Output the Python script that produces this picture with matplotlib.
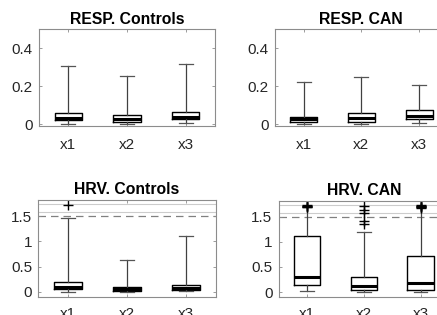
import matplotlib
matplotlib.use('Agg')
import matplotlib.pyplot as plt

plt.rcParams['font.family'] = ['Liberation Sans', 'DejaVu Sans']

labels = ['x1', 'x2', 'x3']

# RESP. Controls: lower whisker, q1, median, q3, upper whisker
resp_ctrl_lo = [0.004, 0.002, 0.008]
resp_ctrl_q1 = [0.022, 0.014, 0.026]
resp_ctrl_med = [0.035, 0.028, 0.040]
resp_ctrl_q3 = [0.060, 0.049, 0.063]
resp_ctrl_hi = [0.307, 0.253, 0.316]

# RESP. CAN
resp_can_lo = [0.004, 0.002, 0.008]
resp_can_q1 = [0.014, 0.012, 0.028]
resp_can_med = [0.028, 0.032, 0.042]
resp_can_q3 = [0.040, 0.058, 0.077]
resp_can_hi = [0.223, 0.247, 0.205]

# HRV. Controls
hrv_ctrl_lo = [0.0, 0.0, 0.01]
hrv_ctrl_q1 = [0.05, 0.02, 0.04]
hrv_ctrl_med = [0.10, 0.06, 0.07]
hrv_ctrl_q3 = [0.20, 0.10, 0.14]
hrv_ctrl_hi = [1.47, 0.64, 1.10]
hrv_ctrl_out = [[1.72], [], []]

# HRV. CAN
hrv_can_lo = [0.02, 0.0, 0.01]
hrv_can_q1 = [0.14, 0.04, 0.05]
hrv_can_med = [0.29, 0.12, 0.17]
hrv_can_q3 = [1.12, 0.29, 0.71]
hrv_can_hi = [1.90, 1.20, 1.90]
hrv_can_out = [[1.69, 1.70, 1.71, 1.72, 1.73],
               [1.36, 1.42, 1.57, 1.63, 1.72],
               [1.68, 1.69, 1.70, 1.71, 1.72, 1.73]]

# compressed-outlier band of the HRV panels
hrv_limit = 1.5
hrv_band = [1.575, 1.74]

gray = '#8c8c8c'
txt = '#262626'


def make_stats(lo, q1, med, q3, hi, out=None):
    stats = []
    for i in range(len(lo)):
        stats.append({'whislo': lo[i], 'q1': q1[i], 'med': med[i], 'q3': q3[i],
                      'whishi': hi[i], 'fliers': out[i] if out else [],
                      'label': labels[i]})
    return stats


def draw_panel(ax, stats, title, ylim, yticks, ytlabels, xpad, tpad):
    ax.bxp(stats, positions=[1, 2, 3], widths=0.47, showfliers=True,
           boxprops=dict(color='black', linewidth=1.0),
           medianprops=dict(color='black', linewidth=2.2),
           whiskerprops=dict(color='#404040', linewidth=0.9, linestyle='-'),
           capprops=dict(color='#555555', linewidth=0.9),
           capwidths=0.24,
           flierprops=dict(marker='+', markeredgecolor='black', markersize=7,
                           markeredgewidth=1.0, linestyle='none'))
    ax.set_xlim(0.5, 3.5)
    ax.set_ylim(*ylim)
    ax.set_yticks(yticks)
    ax.set_yticklabels(ytlabels)
    ax.set_xticks([1, 2, 3])
    ax.set_xticklabels(labels)
    for s in ax.spines.values():
        s.set_color(gray)
        s.set_linewidth(0.8)
    ax.tick_params(axis='both', direction='in', length=2.5, width=0.6,
                   color=gray, labelcolor=txt, labelsize=11,
                   top=True, right=True)
    ax.tick_params(axis='x', pad=xpad)
    ax.tick_params(axis='y', pad=4.5)
    ax.set_title(title, fontsize=11.3, fontweight='bold', pad=tpad)


W, H = 437, 315
fig = plt.figure(figsize=(W / 100, H / 100), dpi=100)


def add_ax(left, right, top, bottom):
    return fig.add_axes([left / W, (H - bottom) / H, (right - left) / W, (bottom - top) / H])


ax1 = add_ax(39, 215, 29, 126)
ax2 = add_ax(274.7, 448, 29, 126)
ax3 = add_ax(38.3, 215.7, 200, 297.3)
ax4 = add_ax(278.7, 449, 200.7, 297.3)

resp_ticks = [0, 0.2, 0.4]
resp_tl = ['0', '0.2', '0.4']
hrv_ticks = [0, 0.5, 1, 1.5]
hrv_tl = ['0', '0.5', '1', '1.5']

draw_panel(ax1, make_stats(resp_ctrl_lo, resp_ctrl_q1, resp_ctrl_med, resp_ctrl_q3, resp_ctrl_hi),
           'RESP. Controls', (-0.009, 0.5), resp_ticks, resp_tl, 8.5, 3.6)
draw_panel(ax2, make_stats(resp_can_lo, resp_can_q1, resp_can_med, resp_can_q3, resp_can_hi),
           'RESP. CAN', (-0.009, 0.5), resp_ticks, resp_tl, 8.5, 3.6)

for ax in (ax3, ax4):
    for yb in hrv_band:
        ax.axhline(yb, color='#cccccc', linewidth=0.8, zorder=0)
    ax.axhline(hrv_limit, color='#808080', linewidth=0.9, linestyle=(0, (6, 4)), zorder=0)

draw_panel(ax3, make_stats(hrv_ctrl_lo, hrv_ctrl_q1, hrv_ctrl_med, hrv_ctrl_q3, hrv_ctrl_hi, hrv_ctrl_out),
           'HRV. Controls', (-0.105, 1.818), hrv_ticks, hrv_tl, 6.8, 4.0)
draw_panel(ax4, make_stats(hrv_can_lo, hrv_can_q1, hrv_can_med, hrv_can_q3, hrv_can_hi, hrv_can_out),
           'HRV. CAN', (-0.105, 1.818), hrv_ticks, hrv_tl, 6.8, 4.0)

fig.savefig('out.png', dpi=100)
